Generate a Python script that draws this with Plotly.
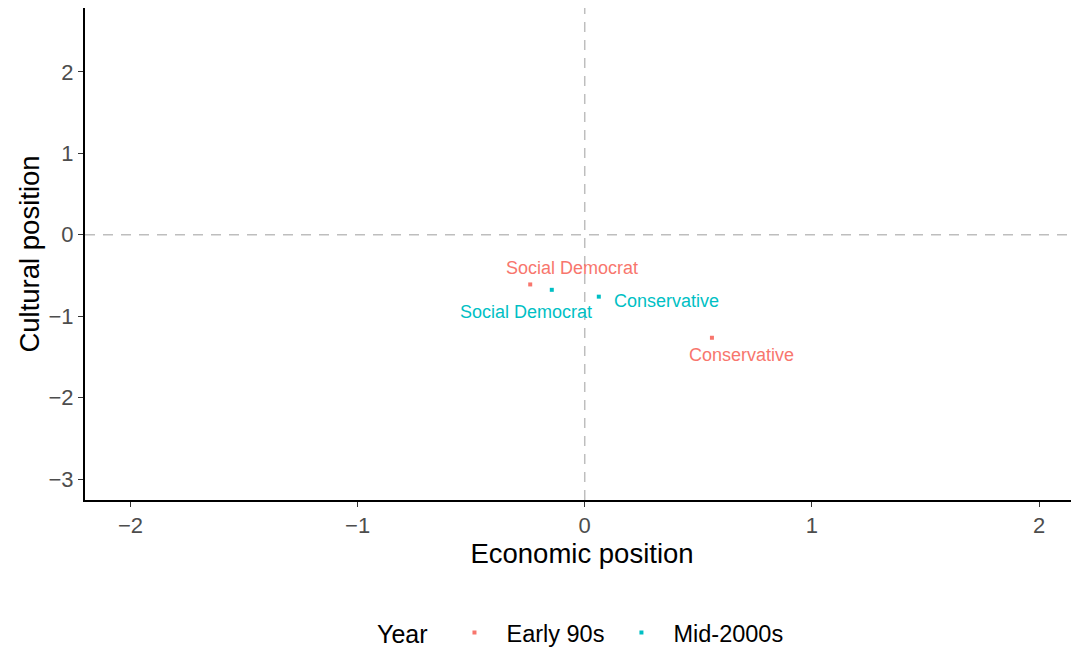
import plotly.graph_objects as go

parties = ["Social Democrat", "Conservative"]
years = ["Early 90s", "Mid-2000s"]
econ = {"Early 90s": [-0.24, 0.56], "Mid-2000s": [-0.145, 0.062]}
cult = {"Early 90s": [-0.61, -1.265], "Mid-2000s": [-0.676, -0.76]}
colors = {"Early 90s": "#F8766D", "Mid-2000s": "#00BFC4"}
x_ticks = [-2, -1, 0, 1, 2]
y_ticks = [-3, -2, -1, 0, 1, 2]
x_tick_text = ["\u22122", "\u22121", "0", "1", "2"]
y_tick_text = ["\u22123", "\u22122", "\u22121", "0", "1", "2"]

# label pixel offsets (layout only)
label_shift = {
    ("Early 90s", "Social Democrat"): (42, 16),
    ("Early 90s", "Conservative"): (30, -17),
    ("Mid-2000s", "Social Democrat"): (-26, -22),
    ("Mid-2000s", "Conservative"): (68, -4),
}

FONT = "Liberation Sans, Arial, sans-serif"
fig = go.Figure()
annotations = []
for yr in years:
    fig.add_trace(go.Scatter(
        x=econ[yr], y=cult[yr], mode="markers", name=yr,
        marker=dict(color=colors[yr], size=4, symbol="square"),
    ))
    for p, xv, yv in zip(parties, econ[yr], cult[yr]):
        dx, dy = label_shift[(yr, p)]
        annotations.append(dict(
            x=xv, y=yv, xref="x", yref="y", text=p, showarrow=False,
            xshift=dx, yshift=dy, font=dict(color=colors[yr], size=18, family=FONT),
        ))

fig.add_shape(type="line", x0=0, x1=0, y0=0, y1=1, xref="x", yref="paper",
              line=dict(color="#BEBEBE", width=1.5, dash="10px,8px"), layer="below")
fig.add_shape(type="line", x0=0, x1=1, y0=0, y1=0, xref="paper", yref="y",
              line=dict(color="#BEBEBE", width=1.5, dash="10px,8px"), layer="below")

fig.update_layout(
    width=1071, height=641,
    paper_bgcolor="white", plot_bgcolor="white",
    margin=dict(l=77, r=0, t=0, b=149, autoexpand=False),
    font=dict(family=FONT),
    annotations=annotations,
    xaxis=dict(range=[-2.2, 2.176], tickvals=x_ticks, ticktext=x_tick_text,
               showgrid=False, zeroline=False, showline=True, linecolor="black", linewidth=2,
               ticks="outside", ticklen=5, tickcolor="#333333", automargin=False,
               tickfont=dict(size=22, color="#4D4D4D"),
               title=dict(text="Economic position", font=dict(size=27.5, color="black"), standoff=5)),
    yaxis=dict(range=[-3.258, 2.786], tickvals=y_ticks, ticktext=y_tick_text,
               showgrid=False, zeroline=False, showline=True, linecolor="black", linewidth=2,
               ticks="outside", ticklen=5, tickcolor="#333333", automargin=False,
               tickfont=dict(size=22, color="#4D4D4D"),
               title=dict(text="Cultural position", font=dict(size=27.5, color="black"), standoff=1)),
    legend=dict(orientation="h", x=0.5, xanchor="center", y=-0.27, yanchor="middle",
                title=dict(text="Year ", font=dict(size=25, color="black")),
                font=dict(size=23.5, color="black"), itemwidth=54, valign="middle"),
)

fig.write_html("out.html")
